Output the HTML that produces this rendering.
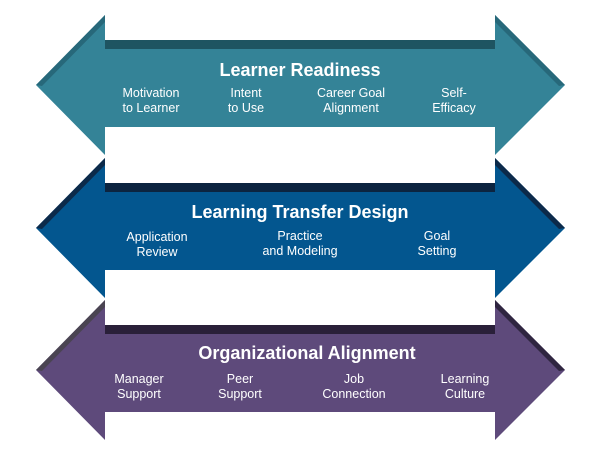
<!DOCTYPE html>
<html><head><style>body{margin:0;background:#fff}svg{display:block}text{font-family:"Liberation Sans",sans-serif;fill:#fff;text-anchor:middle}.t{font-size:18px;font-weight:bold}.s{font-size:12.5px}</style></head><body>
<svg width="600" height="450" viewBox="0 0 600 450">
<g>
<polygon fill="#348397" points="105,15 105,40 495,40 495,15 565,85 495,155 495,127 105,127 105,155 36,85"/>
<polygon fill="#27687a" points="105,15 105,22 42,86 36,85"/>
<polygon fill="#27687a" points="495,15 565,85 559,86 495,22"/>
<rect x="105" y="40" width="390" height="9" fill="#1e5461"/>
<text class="t" x="300" y="76">Learner Readiness</text>
<text class="s" x="151" y="97">Motivation</text><text class="s" x="151" y="112">to Learner</text>
<text class="s" x="246" y="97">Intent</text><text class="s" x="246" y="112">to Use</text>
<text class="s" x="351" y="97">Career Goal</text><text class="s" x="351" y="112">Alignment</text>
<text class="s" x="454" y="97">Self-</text><text class="s" x="454" y="112">Efficacy</text>
</g>
<g>
<polygon fill="#03568f" points="105,158 105,183 495,183 495,158 565,228 495,298 495,270 105,270 105,298 36,228"/>
<polygon fill="#0c2a4a" points="105,158 105,165 42,229 36,228"/>
<polygon fill="#0c2a4a" points="495,158 565,228 559,229 495,165"/>
<rect x="105" y="183" width="390" height="9" fill="#0c2440"/>
<text class="t" x="300" y="218">Learning Transfer Design</text>
<text class="s" x="157" y="241">Application</text><text class="s" x="157" y="256">Review</text>
<text class="s" x="300" y="240">Practice</text><text class="s" x="300" y="255">and Modeling</text>
<text class="s" x="437" y="240">Goal</text><text class="s" x="437" y="255">Setting</text>
</g>
<g>
<polygon fill="#5e4a7b" points="105,300 105,325 495,325 495,300 565,370 495,440 495,412 105,412 105,440 36,370"/>
<polygon fill="#4a4452" points="105,300 105,307 42,371 36,370"/>
<polygon fill="#2f2540" points="495,300 565,370 559,371 495,307"/>
<rect x="105" y="325" width="390" height="9" fill="#2a2039"/>
<text class="t" x="307" y="359">Organizational Alignment</text>
<text class="s" x="139" y="383">Manager</text><text class="s" x="139" y="398">Support</text>
<text class="s" x="240" y="383">Peer</text><text class="s" x="240" y="398">Support</text>
<text class="s" x="354" y="383">Job</text><text class="s" x="354" y="398">Connection</text>
<text class="s" x="465" y="383">Learning</text><text class="s" x="465" y="398">Culture</text>
</g>
</svg>
</body></html>
